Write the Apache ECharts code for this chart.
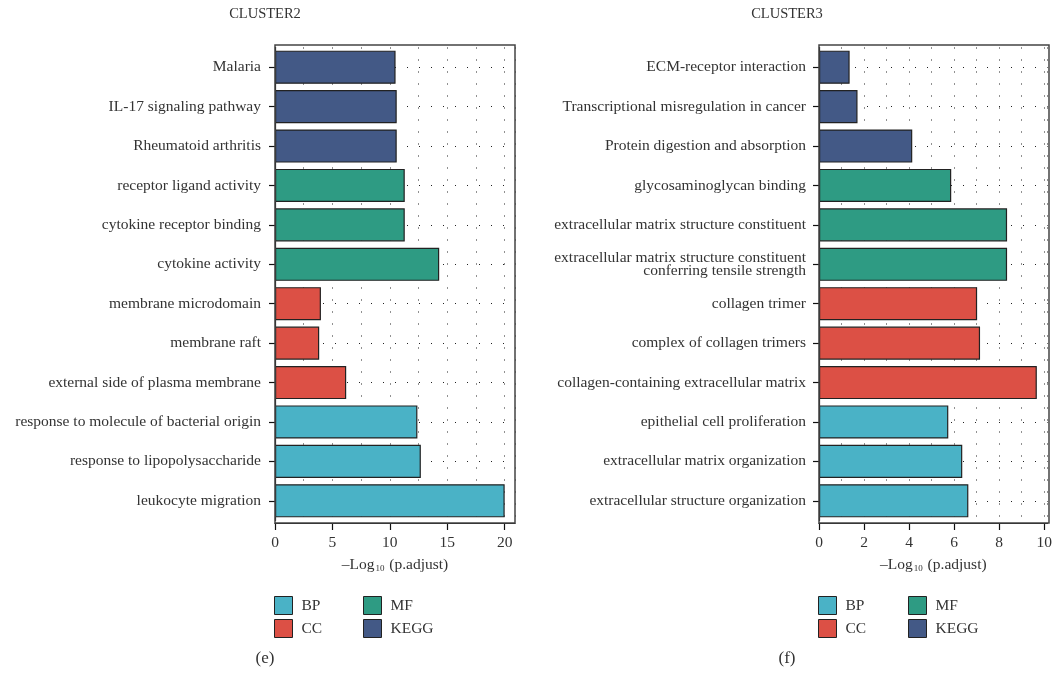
<!DOCTYPE html>
<html>
<head>
<meta charset="utf-8">
<script src="https://cdn.jsdelivr.net/npm/echarts@6/dist/echarts.min.js"></script>
<style>
  html, body { margin: 0; padding: 0; background: #fff; }
  #chart { width: 1055px; height: 673px; }
</style>
</head>
<body>
<div id="chart"></div>
<script>
// Enrichment results, listed top to bottom as drawn
const groupNames = ['BP', 'CC', 'MF', 'KEGG'];
const groupColors = ['#4AB2C6', '#DC5045', '#2E9B83', '#435986'];

const c2Categories = [
  'Malaria',
  'IL-17 signaling pathway',
  'Rheumatoid arthritis',
  'receptor ligand activity',
  'cytokine receptor binding',
  'cytokine activity',
  'membrane microdomain',
  'membrane raft',
  'external side of plasma membrane',
  'response to molecule of bacterial origin',
  'response to lipopolysaccharide',
  'leukocyte migration'
];
const c2Values = [10.5, 10.6, 10.6, 11.3, 11.3, 14.3, 4.0, 3.85, 6.2, 12.4, 12.7, 20.0];
const c2Groups = ['KEGG', 'KEGG', 'KEGG', 'MF', 'MF', 'MF', 'CC', 'CC', 'CC', 'BP', 'BP', 'BP'];

const c3Categories = [
  'ECM-receptor interaction',
  'Transcriptional misregulation in cancer',
  'Protein digestion and absorption',
  'glycosaminoglycan binding',
  'extracellular matrix structure constituent',
  'extracellular matrix structure constituent\nconferring tensile strength',
  'collagen trimer',
  'complex of collagen trimers',
  'collagen-containing extracellular matrix',
  'epithelial cell proliferation',
  'extracellular matrix organization',
  'extracellular structure organization'
];
const c3Values = [1.36, 1.71, 4.14, 5.87, 8.35, 8.35, 7.02, 7.15, 9.67, 5.74, 6.36, 6.63];
const c3Groups = ['KEGG', 'KEGG', 'KEGG', 'MF', 'MF', 'MF', 'CC', 'CC', 'CC', 'BP', 'BP', 'BP'];

const c2Ticks = { max: 20.9, interval: 5 };
const c3Ticks = { max: 10.15, interval: 2 };

const FONT = "'Liberation Serif', 'DejaVu Serif', serif";
const dotted = { color: '#222', width: 1, type: [1, 11] };

// panel frames (the bar area sits slightly inside, like a padded discrete scale)
const panels = [
  { left: 275, top: 45, width: 240, height: 478 },
  { left: 819, top: 45, width: 230, height: 478 }
];
const PAD = 2.5;

function xAxisFor(gridIndex, ticks) {
  return {
    type: 'value', gridIndex: gridIndex, min: 0, max: ticks.max, interval: ticks.interval,
    offset: PAD,
    axisLine: { show: true, onZero: false, lineStyle: { color: '#111', width: 1.2 } },
    axisTick: { show: true, length: 7, lineStyle: { color: '#111', width: 1.2 } },
    axisLabel: { showMaxLabel: false, margin: 12, color: '#333', fontFamily: FONT, fontSize: 15.5 },
    splitLine: { show: true, lineStyle: dotted },
    minorTick: { show: false, splitNumber: 2 },
    minorSplitLine: { show: true, lineStyle: dotted },
    name: '{a|\u2013Log}{s|10}{a| (p.adjust)}',
    nameLocation: 'middle', nameGap: 32,
    nameTextStyle: {
      color: '#333', fontFamily: FONT, fontSize: 15.5,
      rich: {
        a: { fontFamily: FONT, fontSize: 15.5, color: '#333', lineHeight: 18, verticalAlign: 'bottom' },
        s: { fontFamily: FONT, fontSize: 9, color: '#333', lineHeight: 14, verticalAlign: 'bottom', padding: [0, 1, 0, 1] }
      }
    }
  };
}

function yAxisFor(gridIndex, categories, margin) {
  return {
    type: 'category', gridIndex: gridIndex, data: categories, inverse: true,
    axisLine: { show: true, lineStyle: { color: '#111', width: 1.2 } },
    axisTick: { show: true, alignWithLabel: true, length: 6, lineStyle: { color: '#111', width: 1.2 } },
    axisLabel: { margin: margin, color: '#333', fontFamily: FONT, fontSize: 15.5, lineHeight: 13.5, align: 'right' },
    splitLine: { show: true, alignWithLabel: true, lineStyle: dotted }
  };
}

function seriesFor(values, groups, idx) {
  return groupNames.map(function (g, gi) {
    return {
      name: g, type: 'bar', stack: 'cluster' + idx,
      xAxisIndex: idx, yAxisIndex: idx,
      barCategoryGap: '16%',
      itemStyle: { color: groupColors[gi], borderColor: '#222', borderWidth: 1.2 },
      emphasis: { disabled: true },
      data: values.map(function (v, i) { return groups[i] === g ? v : '-'; })
    };
  });
}

function legendItem(name, left, top) {
  return {
    data: [name], left: left, top: top, padding: 0, orient: 'horizontal',
    icon: 'rect', itemWidth: 18, itemHeight: 18,
    itemStyle: { borderColor: '#222', borderWidth: 1 },
    textStyle: { color: '#333', fontFamily: FONT, fontSize: 15.5, padding: [0, 0, 0, 4] }
  };
}

function textMark(text, x, y, size) {
  return {
    type: 'text', x: x, y: y,
    style: { text: text, fill: '#333', font: size + 'px ' + FONT, align: 'center', verticalAlign: 'middle' }
  };
}

function frame(p) {
  return {
    type: 'rect', z: 100, silent: true,
    shape: { x: p.left, y: p.top, width: p.width, height: p.height },
    style: { fill: 'none', stroke: '#444', lineWidth: 1.5 }
  };
}

const chart = echarts.init(document.getElementById('chart'), null, { renderer: 'canvas' });
chart.setOption({
  animation: false,
  backgroundColor: '#fff',
  grid: panels.map(function (p) {
    return { left: p.left, top: p.top + PAD, width: p.width, height: p.height - 2 * PAD, containLabel: false };
  }),
  xAxis: [xAxisFor(0, c2Ticks), xAxisFor(1, c3Ticks)],
  yAxis: [yAxisFor(0, c2Categories, 14), yAxisFor(1, c3Categories, 13)],
  legend: [
    legendItem('BP', 274, 596), legendItem('MF', 363, 596),
    legendItem('CC', 274, 619), legendItem('KEGG', 363, 619),
    legendItem('BP', 818, 596), legendItem('MF', 908, 596),
    legendItem('CC', 818, 619), legendItem('KEGG', 908, 619)
  ],
  graphic: [
    frame(panels[0]),
    frame(panels[1]),
    textMark('CLUSTER2', 265, 14, 14.5),
    textMark('CLUSTER3', 787, 14, 14.5),
    textMark('(e)', 265, 659, 17),
    textMark('(f)', 787, 659, 17)
  ],
  series: seriesFor(c2Values, c2Groups, 0).concat(seriesFor(c3Values, c3Groups, 1))
});
</script>
</body>
</html>
